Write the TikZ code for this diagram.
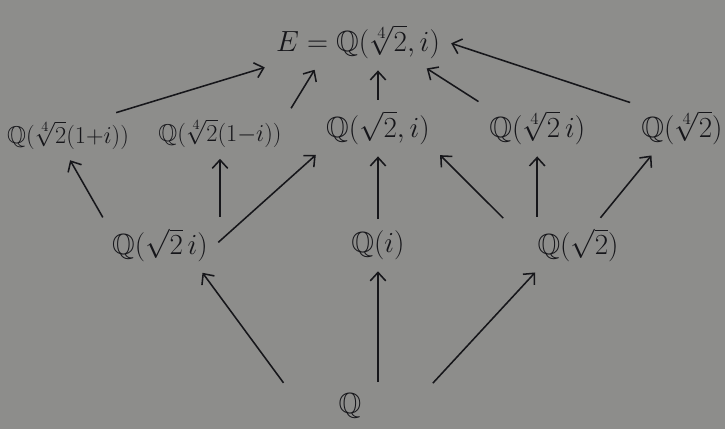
\documentclass[tikz,border=0pt]{standalone}
\usepackage{amssymb}
\usetikzlibrary{arrows.meta}
\definecolor{paper}{RGB}{141,141,139}
\definecolor{ink}{RGB}{22,22,26}
\tikzset{
  field/.style={text=ink, font=\huge, inner sep=5pt},
  up/.style={draw=ink, line width=1.1pt, -{Straight Barb[length=6pt,width=11pt]}, shorten <=3pt, shorten >=3pt}
}
\begin{document}
\begin{tikzpicture}
\fill[paper] (0,0) rectangle (18.125,-10.725);
\useasboundingbox (0,0) rectangle (18.125,-10.725);
% top
\node[field] (E) at (8.95,-1.05) {$E=\mathbb{Q}(\sqrt[4]{2},i)$};
% degree 4
\node[field, font=\LARGE] (a) at (1.7,-3.38) {$\mathbb{Q}(\sqrt[4]{2}(1{+}i))$};
\node[field, font=\LARGE] (b) at (5.5,-3.33) {$\mathbb{Q}(\sqrt[4]{2}(1{-}i))$};
\node[field] (c) at (9.45,-3.2) {$\mathbb{Q}(\sqrt{2},i)$};
\node[field] (d) at (13.43,-3.2) {$\mathbb{Q}(\sqrt[4]{2}\,i)$};
\node[field] (f) at (17.05,-3.2) {$\mathbb{Q}(\sqrt[4]{2})$};
% degree 2
\node[field] (g) at (4.0,-6.13) {$\mathbb{Q}(\sqrt{2}\,i)$};
\node[field] (h) at (9.45,-6.13) {$\mathbb{Q}(i)$};
\node[field] (k) at (14.45,-6.13) {$\mathbb{Q}(\sqrt{2})$};
% bottom
\node[field] (q) at (8.75,-10.15) {$\mathbb{Q}$};
\draw[up] ([xshift=-0.6cm]a.north east) -- (E.south west);
\draw[up] (b.north east) -- ([xshift=1.2cm]E.south west);
\draw[up] (c) -- (c |- E.south);
\draw[up] (d.north west) -- ([xshift=-0.6cm]E.south east);
\draw[up] (f.north west) -- (E.east);
\draw[up] (g.north west) -- (a.south);
\draw[up] (g.north -| b.south) -- (b.south);
\draw[up] (g.east) -- (c.south west);
\draw[up] (h) -- (c);
\draw[up] ([xshift=-0.6cm]k.north west) -- (c.south east);
\draw[up] (k.north -| d.south) -- (d.south);
\draw[up] ([xshift=-0.7cm]k.north east) -- ([xshift=0.5cm]f.south west);
\draw[up] ([xshift=-1.6cm]q.north) -- ([xshift=1cm]g.south);
\draw[up] (q.north -| h.south) -- (h.south);
\draw[up] ([xshift=2cm]q.north) -- ([xshift=-1cm]k.south);
\end{tikzpicture}
\end{document}
